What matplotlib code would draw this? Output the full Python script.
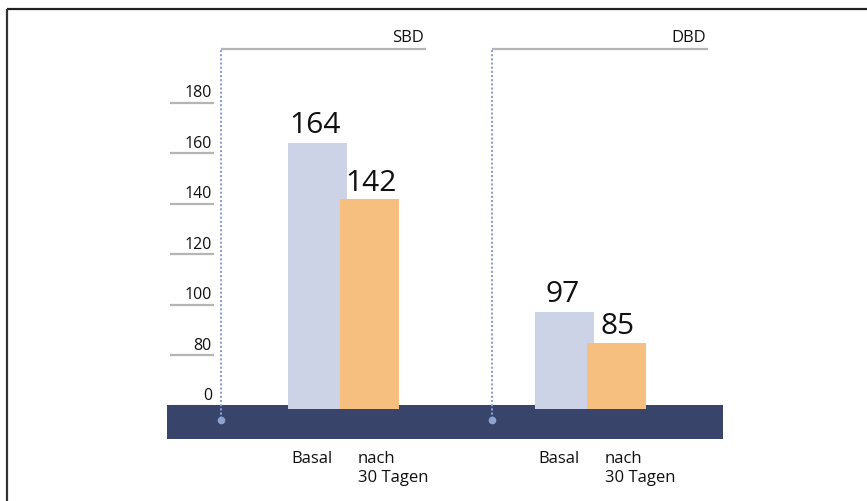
import matplotlib
matplotlib.use("Agg")
import matplotlib.pyplot as plt
from matplotlib.lines import Line2D

plt.rcParams['font.family'] = ['Open Sans', 'DejaVu Sans']

# ---- data ----
groups = ["SBD", "DBD"]
series_names = ["Basal", "nach\n30 Tagen"]
basal = [164, 97]
after30 = [142, 85]
tick_values = [0, 80, 100, 120, 140, 160, 180]
BREAK = 60  # the axis jumps from 0 straight to 80 (0 drawn where 60 would be)

def disp(v):
    return v - BREAK if v >= 80 else v * 0.0

# ---- layout (pixel geometry of the 867x502 canvas) ----
W, H = 867, 502
Y0 = 406.7          # pixel row of the zero line
PX = 2.525          # pixels per value unit
fig = plt.figure(figsize=(W / 100, H / 100), dpi=100)
ax = fig.add_axes([0, 0, 1, 1])
ax.set_xlim(0, W)
ax.set_ylim(-(H - Y0) / PX, Y0 / PX)
ax.axis("off")

def py(pix):  # pixel row -> data y
    return (Y0 - pix) / PX

LAV = "#cdd3e7"
ORA = "#f6bf80"
NAVY = "#38446a"
GRID = "#b5b5b5"
DOT = "#8ea2d0"
TXT = "#111111"

group_centers = [343.5, 590.5]
offset = 26
width = 59
bar_bottom = py(410)

# dark base band
ax.axhspan(py(440), py(406), xmin=167 / W, xmax=723 / W, color=NAVY, zorder=1, lw=0)

# y ticks (lines with labels above)
for t in tick_values:
    y = disp(t)
    ax.plot([170, 213.5], [y, y], color=GRID, lw=1.6, zorder=0.5, solid_capstyle="butt")
    ax.text(212, y + 2.6, str(t), ha="right", va="baseline", fontsize=11.5, color=TXT)

# bars
for i, g in enumerate(groups):
    c = group_centers[i]
    vb, va = basal[i], after30[i]
    ax.bar(c - offset, disp(vb) - bar_bottom, bottom=bar_bottom, width=width,
           color=LAV, zorder=2, lw=0)
    ax.bar(c + offset, disp(va) - bar_bottom, bottom=bar_bottom, width=width,
           color=ORA, zorder=3, lw=0)
    ax.text(c - offset - 2, disp(vb) + 4.3, str(vb), ha="center", va="baseline",
            fontsize=21.5, color=TXT, zorder=4)
    ax.text(c + offset + 1.5, disp(va) + 3.6, str(va), ha="center", va="baseline",
            fontsize=21.5, color=TXT, zorder=4)
    # category labels
    lab_x = [c - offset - width / 2 + 3, c + offset - width / 2 + 18]
    for name, lx in zip(series_names, lab_x):
        for k, line in enumerate(name.split("\n")):
            ax.text(lx, py(463 + 18.7 * k), line, ha="left", va="baseline",
                    fontsize=12, color=TXT)

# group headers with dotted leader lines
header_x = [(221, 426), (492, 708)]
for (x0, x1), g in zip(header_x, groups):
    ax.plot([x0, x1], [py(50), py(50)], color=GRID, lw=1.6, zorder=1,
            solid_capstyle="butt")
    ax.plot([x0, x0], [py(51), py(420)], color=DOT, lw=1.5, ls=(0, (1, 1)), zorder=2)
    ax.plot([x0], [py(421)], marker="o", ms=5.5, color=DOT, mec="none", zorder=3)
    ax.text(x1 - 2, py(42.5), g, ha="right", va="baseline", fontsize=12, color=TXT)

# frame (top and left)
fig.add_artist(Line2D([7.3 / W, 1], [1 - 9.7 / H, 1 - 9.7 / H], color="#222222", lw=1.6,
                      transform=fig.transFigure, solid_capstyle="butt"))
fig.add_artist(Line2D([7.3 / W, 7.3 / W], [0, 1 - 9.7 / H], color="#333333", lw=1.6,
                      transform=fig.transFigure, solid_capstyle="butt"))

fig.savefig("out.png", dpi=100, facecolor="white")
